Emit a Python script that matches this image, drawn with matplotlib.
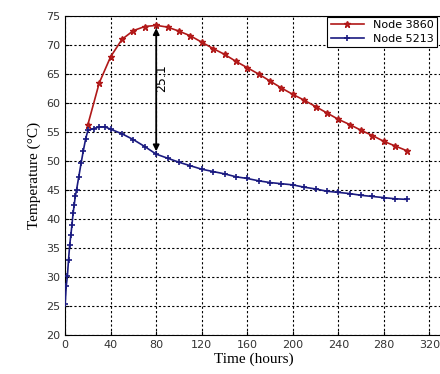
import matplotlib
matplotlib.use("Agg")
import matplotlib.pyplot as plt
import numpy as np

# Node 3860 (red)
t_red = [20, 30, 40, 50, 60, 70, 80, 90, 100, 110, 120, 130, 140, 150, 160,
         170, 180, 190, 200, 210, 220, 230, 240, 250, 260, 270, 280, 290, 300]
temp_red = [56.3, 63.5, 68.0, 71.0, 72.5, 73.2, 73.4, 73.1, 72.4, 71.6, 70.5,
            69.4, 68.4, 67.2, 66.1, 65.0, 63.8, 62.6, 61.5, 60.5, 59.4, 58.3,
            57.2, 56.3, 55.3, 54.4, 53.4, 52.6, 51.8]

# Node 5213 (blue)
t_blue = [0, 1, 2, 3, 4, 5, 6, 7, 8, 9, 10, 12, 14, 16, 18, 20, 25, 30, 35,
          40, 50, 60, 70, 80, 90, 100, 110, 120, 130, 140, 150, 160, 170, 180,
          190, 200, 210, 220, 230, 240, 250, 260, 270, 280, 290, 300]
temp_blue = [25.3, 28.5, 30.2, 33.0, 35.5, 37.2, 39.0, 41.0, 42.5, 44.0, 45.0,
             47.3, 49.6, 51.8, 53.8, 55.3, 55.6, 55.9, 55.9, 55.5, 54.7, 53.7,
             52.5, 51.2, 50.5, 49.8, 49.2, 48.6, 48.2, 47.8, 47.3, 47.0, 46.6,
             46.3, 46.1, 45.9, 45.5, 45.2, 44.8, 44.6, 44.4, 44.1, 43.9, 43.7,
             43.5, 43.4]

diff_label = "25.1"
arrow_t = 80

fig = plt.figure(figsize=(4.4, 3.74), dpi=100)
ax = fig.add_axes([0.148, 0.104, 0.859, 0.853])

ax.plot(t_red, temp_red, color="#b01818", lw=1.2, marker="*", ms=5,
        mfc="#c81e1e", mec="#b01818", label="Node 3860", zorder=3)
ax.plot(t_blue, temp_blue, color="#1a1a80", lw=1.2, marker="+", ms=5,
        mew=1.2, label="Node 5213", zorder=3)

# difference arrow between both curves
y_top = temp_red[t_red.index(arrow_t)]
y_bot = temp_blue[t_blue.index(arrow_t)]
ax.annotate("", xy=(arrow_t, y_bot), xytext=(arrow_t, y_top),
            arrowprops=dict(arrowstyle="<|-|>", color="black", lw=1.3,
                            mutation_scale=9), zorder=4)
ax.text(arrow_t + 5, (y_top + y_bot) / 2 + 2, diff_label, rotation=90,
        ha="center", va="center", fontsize=9)

ax.set_xlim(0, 332)
ax.set_ylim(20, 75)
ax.set_xticks(np.arange(0, 321, 40))
ax.set_yticks(np.arange(20, 76, 5))
ax.tick_params(direction="in", labelsize=8, length=3, labelcolor="#333333")
ax.grid(True, color="black", linestyle=(0, (2, 2)), lw=0.8)

ax.set_xlabel("Time (hours)", family="Liberation Serif", fontsize=11,
              labelpad=2)
ax.set_ylabel("Temperature (\u00b0C)", family="Liberation Serif", fontsize=11,
              labelpad=4)

leg = ax.legend(loc="upper right", bbox_to_anchor=(0.984, 0.997), fontsize=8,
                fancybox=False, framealpha=1, edgecolor="black", borderpad=0.3,
                handlelength=3, borderaxespad=0.0, labelspacing=0.3)
leg.get_frame().set_linewidth(0.8)

fig.savefig("out.png", dpi=100)
